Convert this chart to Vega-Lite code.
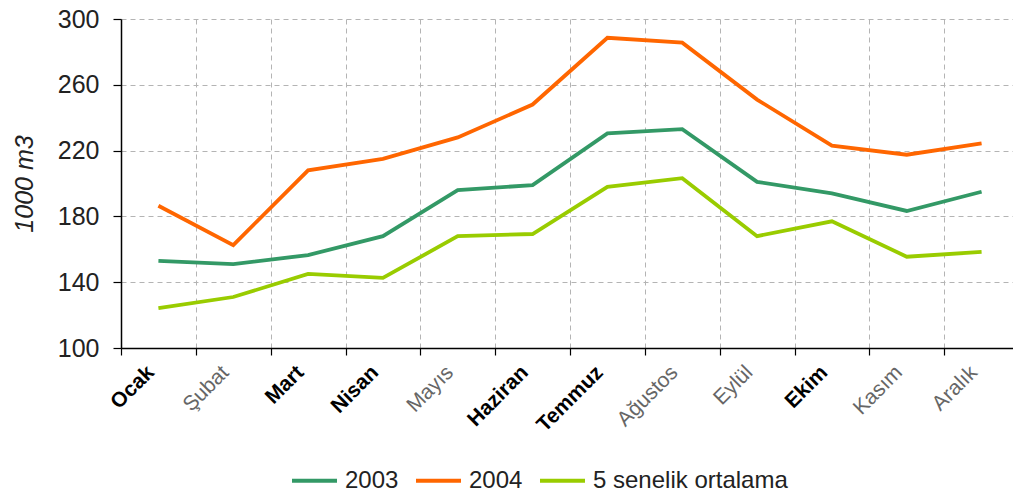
{
  "$schema": "https://vega.github.io/schema/vega-lite/v6.json",
  "autosize": "none",
  "padding": {"left": 121, "top": 19, "right": 0, "bottom": 145},
  "width": 892,
  "height": 329,
  "background": "white",
  "config": {
    "view": {"stroke": null},
    "font": "Liberation Sans"
  },
  "data": {
    "values": [
      {"ay": "Ocak", "seri": "2003", "deger": 153},
      {"ay": "Şubat", "seri": "2003", "deger": 151},
      {"ay": "Mart", "seri": "2003", "deger": 156.5},
      {"ay": "Nisan", "seri": "2003", "deger": 168},
      {"ay": "Mayıs", "seri": "2003", "deger": 196},
      {"ay": "Haziran", "seri": "2003", "deger": 199},
      {"ay": "Temmuz", "seri": "2003", "deger": 230.5},
      {"ay": "Ağustos", "seri": "2003", "deger": 233},
      {"ay": "Eylül", "seri": "2003", "deger": 201},
      {"ay": "Ekim", "seri": "2003", "deger": 194},
      {"ay": "Kasım", "seri": "2003", "deger": 183.3},
      {"ay": "Aralık", "seri": "2003", "deger": 195},
      {"ay": "Ocak", "seri": "2004", "deger": 186.5},
      {"ay": "Şubat", "seri": "2004", "deger": 162.5},
      {"ay": "Mart", "seri": "2004", "deger": 208},
      {"ay": "Nisan", "seri": "2004", "deger": 215},
      {"ay": "Mayıs", "seri": "2004", "deger": 228},
      {"ay": "Haziran", "seri": "2004", "deger": 248},
      {"ay": "Temmuz", "seri": "2004", "deger": 288.6},
      {"ay": "Ağustos", "seri": "2004", "deger": 285.6},
      {"ay": "Eylül", "seri": "2004", "deger": 251},
      {"ay": "Ekim", "seri": "2004", "deger": 223},
      {"ay": "Kasım", "seri": "2004", "deger": 217.5},
      {"ay": "Aralık", "seri": "2004", "deger": 224.4},
      {"ay": "Ocak", "seri": "5 senelik ortalama", "deger": 124.3},
      {"ay": "Şubat", "seri": "5 senelik ortalama", "deger": 131},
      {"ay": "Mart", "seri": "5 senelik ortalama", "deger": 145},
      {"ay": "Nisan", "seri": "5 senelik ortalama", "deger": 142.6},
      {"ay": "Mayıs", "seri": "5 senelik ortalama", "deger": 168},
      {"ay": "Haziran", "seri": "5 senelik ortalama", "deger": 169.3},
      {"ay": "Temmuz", "seri": "5 senelik ortalama", "deger": 198},
      {"ay": "Ağustos", "seri": "5 senelik ortalama", "deger": 203.2},
      {"ay": "Eylül", "seri": "5 senelik ortalama", "deger": 168},
      {"ay": "Ekim", "seri": "5 senelik ortalama", "deger": 177},
      {"ay": "Kasım", "seri": "5 senelik ortalama", "deger": 155.5},
      {"ay": "Aralık", "seri": "5 senelik ortalama", "deger": 158.4}
    ]
  },
  "mark": {"type": "line", "strokeJoin": "miter"},
  "encoding": {
    "x": {
      "field": "ay",
      "type": "nominal",
      "bandPosition": 0.5,
      "sort": ["Ocak", "Şubat", "Mart", "Nisan", "Mayıs", "Haziran", "Temmuz", "Ağustos", "Eylül", "Ekim", "Kasım", "Aralık"],
      "scale": {"type": "band", "paddingInner": 0, "paddingOuter": 0, "range": [0, 898]},
      "axis": {
        "title": null,
        "tickBand": "extent",
        "grid": true,
        "gridColor": "#b4b4b4",
        "gridDash": [5, 4],
        "gridWidth": 1,
        "domainColor": "#000000",
        "domainWidth": 1.5,
        "tickColor": "#000000",
        "tickSize": 7,
        "tickWidth": 1.2,
        "labelAngle": -45,
        "labelAlign": "right",
        "labelBaseline": "middle",
        "labelPadding": 14,
        "labelOffset": -8,
        "labelFontSize": 21,
        "labelFontWeight": {"condition": {"test": "indexof(['Ocak','Mart','Nisan','Haziran','Temmuz','Ekim'], datum.value) >= 0", "value": "bold"}, "value": "normal"},
        "labelColor": {"condition": {"test": "indexof(['Ocak','Mart','Nisan','Haziran','Temmuz','Ekim'], datum.value) >= 0", "value": "#000000"}, "value": "#666666"}
      }
    },
    "y": {
      "field": "deger",
      "type": "quantitative",
      "scale": {"domain": [100, 300], "nice": false, "zero": false},
      "axis": {
        "title": "1000 m3",
        "titleFontSize": 25,
        "titleFontStyle": "italic",
        "titleFontWeight": "normal",
        "titleColor": "#222222",
        "titlePadding": 20,
        "values": [100, 140, 180, 220, 260, 300],
        "grid": true,
        "gridColor": "#b4b4b4",
        "gridDash": [5, 4],
        "gridWidth": 1,
        "domainColor": "#000000",
        "domainWidth": 1.5,
        "tickColor": "#000000",
        "tickSize": 8,
        "tickWidth": 1.2,
        "labelFontSize": 25,
        "labelColor": "#222222",
        "labelPadding": 14
      }
    },
    "color": {
      "field": "seri",
      "type": "nominal",
      "scale": {"domain": ["2003", "2004", "5 senelik ortalama"], "range": ["#339966", "#ff6600", "#99cc00"]},
      "legend": {
        "title": null,
        "orient": "none",
        "direction": "horizontal",
        "legendX": 169,
        "legendY": 437,
        "symbolType": "stroke",
        "symbolSize": 2025,
        "labelFontSize": 24,
        "labelLimit": 400,
        "labelColor": "#222222",
        "labelOffset": 6,
        "columnPadding": 9
      }
    },
    "strokeWidth": {
      "field": "seri",
      "type": "nominal",
      "scale": {"domain": ["2003", "2004", "5 senelik ortalama"], "range": [3.8, 3.8, 1.7]},
      "legend": {
        "title": null,
        "orient": "none",
        "direction": "horizontal",
        "legendX": 169,
        "legendY": 437,
        "symbolType": "stroke",
        "symbolSize": 2025,
        "labelFontSize": 24,
        "labelLimit": 400,
        "labelColor": "#222222",
        "labelOffset": 6,
        "columnPadding": 9
      }
    }
  }
}
